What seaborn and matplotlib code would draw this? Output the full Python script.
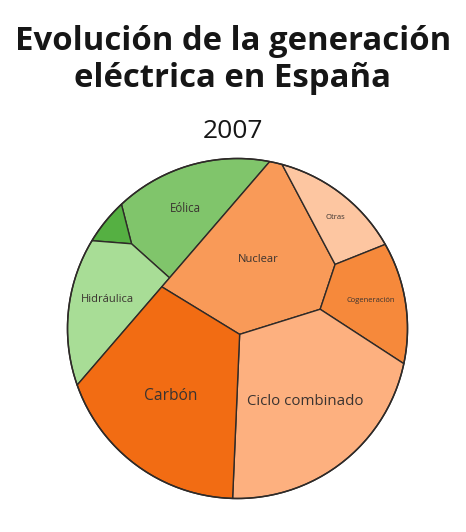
import numpy as np
import matplotlib
matplotlib.use('Agg')
import matplotlib.pyplot as plt
from matplotlib.patches import Polygon, Circle
import seaborn as sns

# ----------------- DATA (cuota de generación, %, 2007) -----------------
fuentes = ['Eólica', 'Solar', 'Hidráulica', 'Nuclear', 'Otras',
           'Cogeneración', 'Ciclo combinado', 'Carbón']
grupos = ['Renovable', 'Renovable', 'Renovable', 'No renovable', 'No renovable',
          'No renovable', 'No renovable', 'No renovable']
cuota = [9.9, 0.9, 8.9, 18.5, 4.6, 7.0, 25.0, 25.2]
grupos_orden = ['Renovable', 'No renovable']
anio = '2007'

# ----------------- LAYOUT (semillas del diagrama de Voronoi, círculo unidad) -----------------
semilla_grupo = {'Renovable': (-0.515, 0.403), 'No renovable': (0.272, -0.275)}
semilla = {
    'Eólica': (-0.199, 0.692), 'Solar': (-0.685, 0.568), 'Hidráulica': (-0.721, 0.109),
    'Nuclear': (0.074, 0.462), 'Otras': (0.662, 0.774), 'Cogeneración': (0.896, 0.188),
    'Ciclo combinado': (0.398, -0.577), 'Carbón': (-0.536, -0.537),
}

# ----------------- STYLE -----------------
colores = {
    'Eólica': '#80c56b', 'Solar': '#55b042', 'Hidráulica': '#a8dd96',
    'Nuclear': '#f99a58', 'Otras': '#fdc6a1', 'Cogeneración': '#f6893b',
    'Ciclo combinado': '#fdb07f', 'Carbón': '#f26c13',
}
tam_etiqueta = {
    'Eólica': 8.3, 'Solar': 0, 'Hidráulica': 8.0, 'Nuclear': 8.0, 'Otras': 5.5,
    'Cogeneración': 5.5, 'Ciclo combinado': 10.8, 'Carbón': 11.2,
}
BORDE = '#2e2a28'
TEXTO = '#3a3330'

sns.set_theme(style='white')
plt.rcParams['font.family'] = ['Open Sans', 'DejaVu Sans']


# ----------------- power diagram helpers -----------------
def clip(poly, a, b):
    if len(poly) == 0:
        return poly
    d = poly @ a - b
    inside = d <= 0
    if inside.all():
        return poly
    if not inside.any():
        return np.zeros((0, 2))
    nxt = np.roll(poly, -1, axis=0)
    dn = np.roll(d, -1)
    cross = inside != (dn <= 0)
    with np.errstate(divide='ignore', invalid='ignore'):
        t = np.where(cross, d / (d - dn), 0.0)
    ip = poly + t[:, None] * (nxt - poly)
    pts = np.stack([poly, ip], axis=1)
    keep = np.stack([inside, cross], axis=1)
    return pts[keep]


def area(poly):
    if len(poly) < 3:
        return 0.0
    x, y = poly[:, 0], poly[:, 1]
    return 0.5 * abs(np.dot(x, np.roll(y, -1)) - np.dot(np.roll(x, -1), y))


def centroid(poly):
    x, y = poly[:, 0], poly[:, 1]
    xn, yn = np.roll(x, -1), np.roll(y, -1)
    c = x * yn - xn * y
    a = c.sum() / 2
    return np.array([((x + xn) * c).sum() / (6 * a), ((y + yn) * c).sum() / (6 * a)])


def power_cells(region, sites, w):
    cells = []
    for i in range(len(sites)):
        poly = region
        for j in range(len(sites)):
            if i == j:
                continue
            a = 2 * (sites[j] - sites[i])
            b = sites[j] @ sites[j] - sites[i] @ sites[i] - w[j] + w[i]
            poly = clip(poly, a, b)
        cells.append(poly)
    return cells


def fit(region, sites, shares):
    sites = np.asarray(sites, float)
    shares = np.asarray(shares, float)
    target = shares / shares.sum() * area(region)
    w = np.zeros(len(sites))
    for _ in range(1500):
        cells = power_cells(region, sites, w)
        err = target - np.array([area(c) for c in cells])
        if np.abs(err).max() < 1e-5:
            break
        w += 0.4 * err
    return cells


theta = np.linspace(0, 2 * np.pi, 721)[:-1]
circulo = np.column_stack([np.cos(theta), np.sin(theta)])

cuota_grupo = [sum(c for c, g in zip(cuota, grupos) if g == gr) for gr in grupos_orden]
celdas_grupo = fit(circulo, [semilla_grupo[g] for g in grupos_orden], cuota_grupo)

celdas = {}
for gr, region in zip(grupos_orden, celdas_grupo):
    nombres = [f for f, g in zip(fuentes, grupos) if g == gr]
    vals = [c for c, g in zip(cuota, grupos) if g == gr]
    for f, poly in zip(nombres, fit(region, [semilla[n] for n in nombres], vals)):
        celdas[f] = poly

# ----------------- FIGURE -----------------
W, H = 466, 532
fig = plt.figure(figsize=(W / 100, H / 100), dpi=100)
fig.patch.set_facecolor('white')
cx, cy, r = 237.5, 328.5, 170
ax = fig.add_axes([(cx - r) / W, (H - cy - r) / H, 2 * r / W, 2 * r / H])
ax.set_xlim(-1, 1)
ax.set_ylim(-1, 1)
ax.set_axis_off()

for f in fuentes:
    poly = celdas[f]
    ax.add_patch(Polygon(poly, closed=True, facecolor=colores[f], edgecolor=BORDE,
                         linewidth=1.0, joinstyle='round', clip_on=False))
ax.add_patch(Circle((0, 0), 1, fill=False, edgecolor=BORDE, linewidth=1.1, clip_on=False))

for f in fuentes:
    if tam_etiqueta[f] == 0:
        continue
    px, py = centroid(celdas[f])
    ax.text(px, py, f, ha='center', va='center', fontsize=tam_etiqueta[f], color=TEXTO)

fig.text(0.5, 1 - 50 / H, 'Evolución de la generación', ha='center', va='baseline',
         fontsize=23.7, fontweight='bold', color='#161616')
fig.text(0.5, 1 - 87 / H, 'eléctrica en España', ha='center', va='baseline',
         fontsize=23.7, fontweight='bold', color='#161616')
fig.text(0.5, 1 - 138 / H, anio, ha='center', va='baseline', fontsize=19, color='#161616')

fig.savefig('out.png', dpi=100, facecolor='white')
